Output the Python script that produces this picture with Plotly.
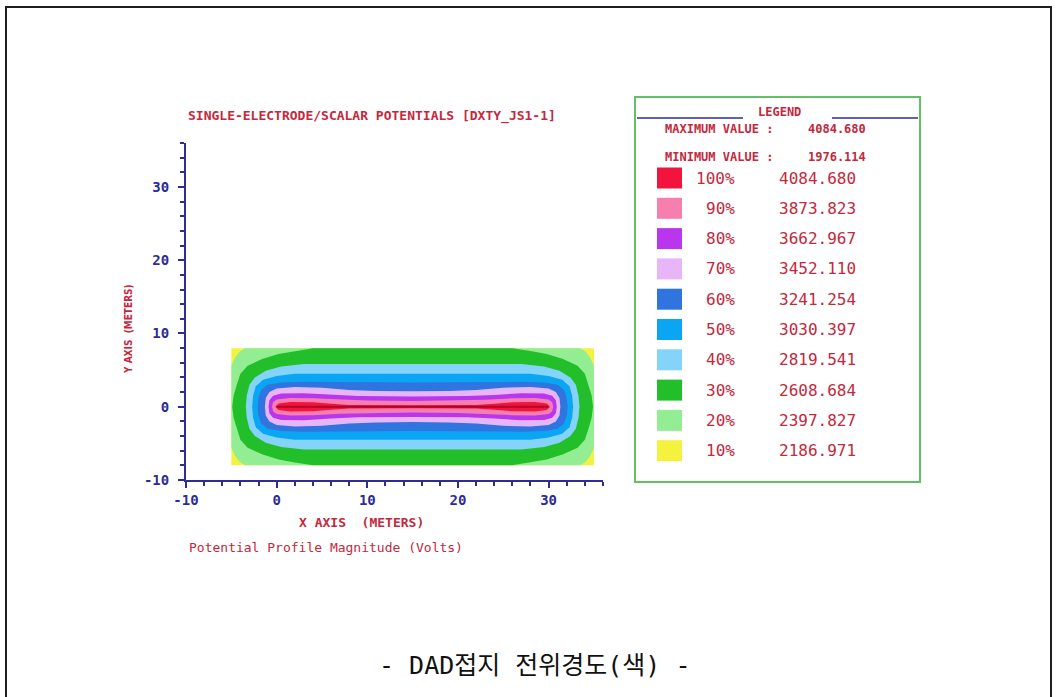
import plotly.graph_objects as go

# Potential bands (percent of maximum) and their values in volts
level_pct = [10, 20, 30, 40, 50, 60, 70, 80, 90, 100]
level_volts = [2186.971, 2397.827, 2608.684, 2819.541, 3030.397,
               3241.254, 3452.110, 3662.967, 3873.823, 4084.680]
level_colors = ["#f4f23f", "#93ee93", "#23bf2b", "#84d3f9", "#0aa6f3",
                "#2f74df", "#e8b6f8", "#b935ee", "#f67fb0", "#f2143c"]
max_volts = 4084.680
min_volts = 1976.114

# Electrode segment (metres)
electrode_x = [0.0, 30.0]
electrode_y = [0.0, 0.0]

# Upper-left quarter of each band outline (metres), from the electrode
# axis (y = 0) round to the centre line x = 15; the rest is symmetric.
q10_x = [-5.0, -5.0, 15.0]
q10_y = [0.0, 8.0, 8.0]
q20_x = [-5.0, -5.0, -4.6, -4.1, -3.5, 15.0]
q20_y = [0.0, 5.6, 6.7, 7.5, 8.0, 8.0]
q30_x = [-4.9, -4.75, -4.4, -4.0, -3.2, -1.6, 0.2, 2.0, 4.0, 15.0]
q30_y = [0.0, 1.5, 3.0, 4.5, 5.6, 6.5, 7.2, 7.6, 8.0, 8.0]
q40_x = [-3.4, -3.3, -3.0, -2.4, -1.2, 0.5, 3.0, 15.0]
q40_y = [0.0, 1.5, 3.0, 4.0, 4.9, 5.5, 5.85, 5.85]
q50_x = [-2.7, -2.6, -2.3, -1.5, 0.0, 2.0, 15.0]
q50_y = [0.0, 1.5, 2.8, 3.7, 4.2, 4.5, 4.5]
q60_x = [-2.1, -2.0, -1.7, -1.0, 0.5, 3.0, 15.0]
q60_y = [0.0, 1.2, 2.3, 3.0, 3.3, 3.4, 3.3]
q70_x = [-1.3, -1.2, -0.8, 0.0, 2.0, 5.0, 8.0, 11.0, 15.0]
q70_y = [0.0, 1.2, 2.0, 2.5, 2.7, 2.6, 2.3, 2.15, 2.1]
q80_x = [-0.9, -0.8, -0.4, 0.5, 3.0, 6.0, 9.0, 15.0]
q80_y = [0.0, 0.9, 1.5, 1.8, 1.85, 1.6, 1.45, 1.4]
q90_x = [-0.5, -0.4, 0.0, 1.5, 4.0, 7.0, 10.0, 15.0]
q90_y = [0.0, 0.6, 1.0, 1.2, 1.15, 0.95, 0.85, 0.8]
q100_x = [-0.15, 0.2, 1.5, 4.0, 6.0, 8.0, 15.0]
q100_y = [0.0, 0.45, 0.65, 0.6, 0.4, 0.25, 0.2]

quarters = [(q10_x, q10_y), (q20_x, q20_y), (q30_x, q30_y), (q40_x, q40_y),
            (q50_x, q50_y), (q60_x, q60_y), (q70_x, q70_y), (q80_x, q80_y),
            (q90_x, q90_y), (q100_x, q100_y)]

# Axis ticks
tick_vals = [-10, 0, 10, 20, 30]
tick_text = ["-10", "0", "10", "20", "30"]

MIRROR_X = 15.0
NAVY = "#2d2d95"
RED_TXT = "#c4283c"
MONO = "DejaVu Sans Mono"


def full_outline(qx, qy):
    top = list(zip(qx, qy))
    top += [(2 * MIRROR_X - x, y) for x, y in reversed(top[:-1])]
    pts = top + [(x, -y) for x, y in reversed(top)]
    return [p[0] for p in pts], [p[1] for p in pts]


fig = go.Figure()
for (qx, qy), pct, volts, col in zip(quarters, level_pct, level_volts, level_colors):
    xs, ys = full_outline(qx, qy)
    fig.add_trace(go.Scatter(
        x=xs, y=ys, mode="lines", fill="toself", fillcolor=col,
        line=dict(width=0, color=col), name=f"{pct}%  {volts:.3f}",
        hoverinfo="name", showlegend=False))

fig.add_trace(go.Scatter(x=electrode_x, y=electrode_y, mode="lines",
                         line=dict(color="#b3002a", width=2),
                         showlegend=False, hoverinfo="skip"))

# Plot area in pixels
L, R, T, B = 186, 603, 143, 480
W, H = 1059, 697


def px(xp):
    return (xp - L) / (R - L)


def py(yp):
    return (B - yp) / (B - T)


def text(s, x, y, size, color=RED_TXT, xanchor="left", bold=True,
         family=MONO, angle=0):
    fig.add_annotation(text=s, x=px(x), y=py(y), xref="paper", yref="paper",
                       xanchor=xanchor, yanchor="middle", showarrow=False,
                       textangle=angle,
                       font=dict(family=family, size=size, color=color,
                                 weight="bold" if bold else "normal"))


def rect(x0, y0, x1, y1, line_color=None, fill=None, width=2):
    fig.add_shape(type="rect", xref="paper", yref="paper",
                  x0=px(x0), y0=py(y0), x1=px(x1), y1=py(y1),
                  line=dict(color=line_color or "rgba(0,0,0,0)", width=width),
                  fillcolor=fill or "rgba(0,0,0,0)", layer="above")


def hline(x0, x1, y, color, width=1.5):
    fig.add_shape(type="line", xref="paper", yref="paper",
                  x0=px(x0), x1=px(x1), y0=py(y), y1=py(y),
                  line=dict(color=color, width=width))


# Page frame
rect(6, 7, 1051, 705, line_color="#1e1e1e", width=2)

# Titles
text("SINGLE-ELECTRODE/SCALAR POTENTIALS [DXTY_JS1-1]", 186, 116, 13)
text("X AXIS  (METERS)", 297, 522, 13)
text("Potential Profile Magnitude (Volts)", 187, 547, 13, bold=False)
text("Y AXIS  (METERS)", 128, 329, 10, angle=-90, xanchor="center",
     family="Liberation Sans Narrow, DejaVu Sans Condensed, " + MONO)

# Legend panel
rect(635, 97, 920, 482, line_color="#62c162", width=2)
hline(637, 743, 118, NAVY)
hline(832, 918, 118, NAVY)
text("LEGEND", 779, 112, 12, xanchor="center")
text("MAXIMUM VALUE :", 663, 129, 12)
text(f"{max_volts:.3f}", 806, 129, 12)
text("MINIMUM VALUE :", 663, 157, 12)
text(f"{min_volts:.3f}", 806, 157, 12)

row0, row_step = 178, 30.3
for i, (pct, volts, col) in enumerate(zip(level_pct[::-1], level_volts[::-1],
                                          level_colors[::-1])):
    yc = row0 + i * row_step
    rect(657, yc - 10.5, 682, yc + 10.5, fill=col, width=0)
    text(f"{pct}%", 737, yc, 16, xanchor="right", bold=False)
    text(f"{volts:.3f}", 777, yc, 16, bold=False)

# Caption
text("- DAD접지 전위경도(색) -", 535, 665, 25, color="#111111",
     xanchor="center", bold=False, family=MONO + ", Noto Sans CJK KR")

axis_common = dict(
    showline=True, linecolor=NAVY, linewidth=2, mirror=False,
    showgrid=False, zeroline=False,
    ticks="outside", ticklen=6, tickwidth=2, tickcolor=NAVY,
    tickmode="array", tickvals=tick_vals, ticktext=tick_text,
    tickfont=dict(family=MONO, size=14, color=NAVY, weight="bold"),
    minor=dict(ticks="outside", ticklen=4, tickwidth=1.5, tickcolor=NAVY,
               tickmode="linear", tick0=-10, dtick=2, showgrid=False),
    range=[-10, 36], fixedrange=True,
)

fig.update_layout(
    width=W, height=H,
    margin=dict(l=L, r=W - R, t=T, b=H - B, pad=0),
    paper_bgcolor="white", plot_bgcolor="white",
    xaxis=dict(axis_common),
    yaxis=dict(axis_common, ticklabelstandoff=6),
    showlegend=False,
)

fig.write_html("out.html")
